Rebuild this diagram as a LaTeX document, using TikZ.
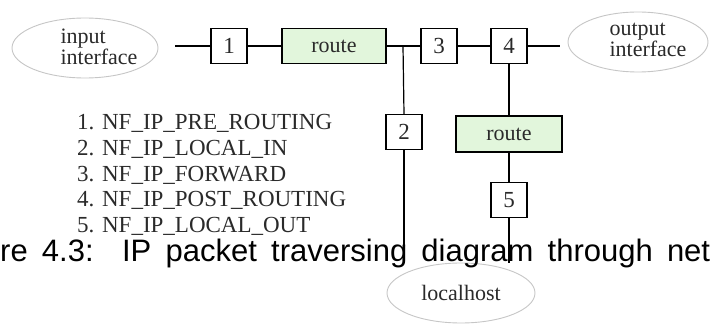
\documentclass[tikz,border=0pt]{standalone}
\usepackage{fontspec}
\setmainfont{Liberation Serif}
\newfontfamily\captionfont{Liberation Sans}
\usetikzlibrary{shapes.geometric}
\definecolor{routegreen}{HTML}{E2F6DC}
\definecolor{labelgray}{HTML}{2A2A2A}
\tikzset{
  hook box/.style={
    rectangle, draw=black, line width=1.2pt, fill=white, inner sep=0pt,
    minimum width=36pt, minimum height=35pt, text=labelgray,
    font=\fontsize{23}{23}\selectfont
  },
  route box/.style={
    rectangle, draw=black, line width=1.2pt, fill=routegreen, inner sep=0pt,
    minimum width=104pt, minimum height=35pt, text=labelgray,
    font=\fontsize{22}{22}\selectfont
  },
  iface/.style={
    ellipse, draw=gray!45, line width=0.9pt, fill=white, inner sep=0pt,
    minimum width=146pt, minimum height=60pt, text=labelgray,
    font=\fontsize{22}{22}\selectfont
  },
  iface text/.style={
    align=left, inner sep=0pt, text=labelgray,
    font=\fontsize{22}{21}\selectfont
  },
  hook name/.style={
    anchor=base west, inner sep=0pt, text=labelgray,
    font=\fontsize{23}{23}\selectfont
  },
  wire/.style={draw=black, line width=1.2pt}
}

\begin{document}
\begin{tikzpicture}[x=1pt, y=1pt]
\useasboundingbox (0,0) rectangle (710,324);

% upper row: input -> 1 -> route -> 3 -> 4 -> output
\node[iface] (inp) at (85,276) {};
\node[iface text] (inpT) at (99,277) {input\\interface};
\coordinate (inW) at (175,278);
\node[hook box]  (h1) at (229,278) {1};
\node[route box] (r1) at (334,278) {route};
\coordinate (jn) at (403,278);
\node[hook box]  (h3) at (439,278) {3};
\node[hook box]  (h4) at (509,278) {4};
\coordinate (outW) at (560,278);
\node[iface, minimum width=140pt] (outp) at (638,282) {};
\node[iface text] (outpT) at (648,284) {output\\interface};

% lower part: 2 down to localhost, route -> 5 down to localhost
\node[hook box]  (h2) at (404,192) {2};
\node[route box, minimum width=106pt, minimum height=36pt] (r2) at (509,190) {route};
\node[hook box]  (h5) at (509,124) {5};
\node[iface, minimum width=148pt] (lh) at (461,31) {localhost};

\draw[wire] (inW) -- (h1.west);
\draw[wire] (h1.east) -- (r1.west);
\draw[wire] (r1.east) -- (h3.west);
\draw[wire] (h3.east) -- (h4.west);
\draw[wire] (h4.east) -- (outW);
\draw[wire] (jn) -- (h2.north);
\draw[wire] (h2.south) -- (h2.south |- lh.north);
\draw[wire] (h4.south) -- (r2.north);
\draw[wire] (r2.south) -- (h5.north);
\draw[wire] (h5.south) -- (h5.south |- lh.north);

% hook names
\node[hook name] (n1) at (77,194) {1. NF\_IP\_PRE\_ROUTING};
\node[hook name] (n2) at (77,168) {2. NF\_IP\_LOCAL\_IN};
\node[hook name] (n3) at (77,142) {3. NF\_IP\_FORWARD};
\node[hook name] (n4) at (77,117) {4. NF\_IP\_POST\_ROUTING};
\node[hook name] (n5) at (77,91)  {5. NF\_IP\_LOCAL\_OUT};

% caption over the picture
\node[anchor=base west, inner sep=0pt] (cap) at (0,62)
  {\captionfont\fontsize{31}{31}\selectfont\makebox[710pt][s]{re 4.3:\ \ IP packet traversing diagram through net}};

\end{tikzpicture}
\end{document}
